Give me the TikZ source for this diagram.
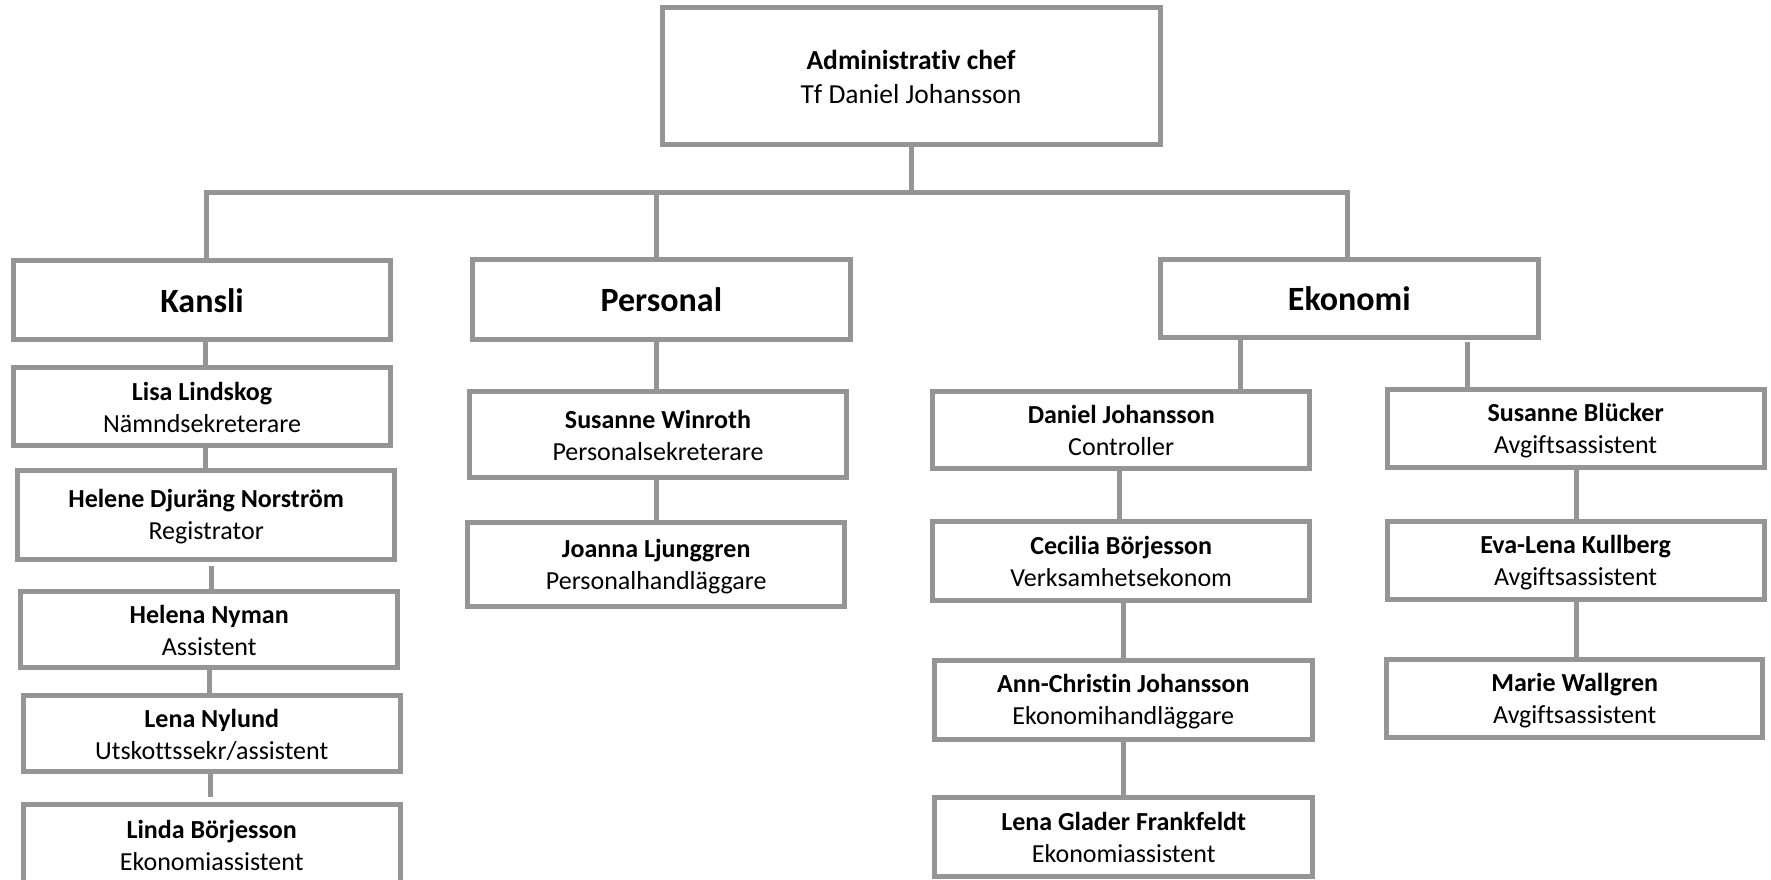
\documentclass[tikz,border=0pt]{standalone}
\usepackage{fontspec}
\setmainfont[Ligatures=NoCommon]{Carlito}
\definecolor{linegray}{RGB}{149,149,149}
\newcommand{\myprule}{\rule[-3.7pt]{0pt}{26.3pt}}
\newcommand{\mytrule}{\rule[-3.5pt]{0pt}{28pt}}
\newcommand{\persontext}[2]{\textbf{#1}\myprule\\#2\myprule}
\tikzset{
  box/.style={draw=linegray, line width=5pt, inner sep=0pt, align=center},
  personbox/.style={box, font=\fontsize{26}{32.3}\selectfont},
  deptbox/.style={box, font=\fontsize{34}{40}\selectfont\bfseries, text height=24pt, text depth=0pt},
  topbox/.style={box, font=\fontsize{27.5}{33.3}\selectfont},
  conn/.style={draw=linegray, line width=5pt}
}
\begin{document}
\begin{tikzpicture}[x=1pt,y=-1pt]
\clip (0,0) rectangle (1771,879);
\fill[white] (0,0) rectangle (1771,879);

% top
\node[topbox, minimum width=498pt, minimum height=137pt] (top) at (911,76)
  {\textbf{Administrativ chef}\mytrule\\Tf Daniel Johansson\mytrule};

% departments
\node[deptbox, minimum width=377.6pt, minimum height=79pt] (kansli) at (202,300.3) {Kansli};
\node[deptbox, minimum width=377.7pt, minimum height=79.4pt] (personal) at (661.3,299.5) {Personal};
\node[deptbox, minimum width=378pt, minimum height=78pt] (ekonomi) at (1349.3,298.8) {Ekonomi};

% Kansli column
\node[personbox, minimum width=377.7pt, minimum height=78.3pt] (lisa) at (202,406.7) {\persontext{Lisa Lindskog}{Nämndsekreterare}};
\node[personbox, minimum width=376.7pt, minimum height=89pt] (helene) at (206.2,514.7) {\persontext{Helene Djuräng Norström}{Registrator}};
\node[personbox, minimum width=376.7pt, minimum height=75.7pt] (helena) at (209.2,629.7) {\persontext{Helena Nyman}{Assistent}};
\node[personbox, minimum width=377pt, minimum height=75.7pt] (lena) at (211.7,733.7) {\persontext{Lena Nylund}{Utskottssekr/assistent}};
\node[personbox, minimum width=377pt, minimum height=81.3pt] (linda) at (211.7,845) {\persontext{Linda Börjesson}{Ekonomiassistent}};

% Personal column
\node[personbox, minimum width=377.6pt, minimum height=85.7pt] (winroth) at (658,434.7) {\persontext{Susanne Winroth}{Personalsekreterare}};
\node[personbox, minimum width=377.3pt, minimum height=84.3pt] (joanna) at (656.2,564.7) {\persontext{Joanna Ljunggren}{Personalhandläggare}};

% Ekonomi left column
\node[personbox, minimum width=377.3pt, minimum height=76.4pt] (daniel) at (1121.2,430) {\persontext{Daniel Johansson}{Controller}};
\node[personbox, minimum width=377.3pt, minimum height=79pt] (cecilia) at (1121.2,561.3) {\persontext{Cecilia Börjesson}{Verksamhetsekonom}};
\node[personbox, minimum width=378.3pt, minimum height=79.2pt] (ann) at (1123.3,699.6) {\persontext{Ann-Christin Johansson}{Ekonomihandläggare}};
\node[personbox, minimum width=377.7pt, minimum height=79.3pt] (glader) at (1123.7,837.2) {\persontext{Lena Glader Frankfeldt}{Ekonomiassistent}};

% Ekonomi right column
\node[personbox, minimum width=377.1pt, minimum height=77.7pt] (blucker) at (1575.6,428.7) {\persontext{Susanne Blücker}{Avgiftsassistent}};
\node[personbox, minimum width=377pt, minimum height=77.4pt] (eva) at (1575.6,560.5) {\persontext{Eva-Lena Kullberg}{Avgiftsassistent}};
\node[personbox, minimum width=375.7pt, minimum height=77.7pt] (marie) at (1574.7,698.7) {\persontext{Marie Wallgren}{Avgiftsassistent}};

% bus
\coordinate (busR) at (1347.5,192);
\draw[conn] (top.south) -- (top.south |- busR);
\draw[conn] ([xshift=4.5pt]kansli.north) |- (busR) -- ([xshift=-1.8pt]ekonomi.north);
\draw[conn] ([xshift=-4.8pt]personal.north) -- ([xshift=-4.8pt]personal.north |- busR);

% Kansli connectors
\draw[conn] ([xshift=3.7pt]kansli.south) -- ([xshift=3.7pt]kansli.south |- lisa.north);
\draw[conn] ([xshift=3.7pt]lisa.south) -- ([xshift=3.7pt]lisa.south |- helene.north);
\draw[conn, shorten <=4pt] ([xshift=5.6pt]helene.south) -- ([xshift=5.6pt]helene.south |- helena.north);
\draw[conn] ([xshift=0.6pt]helena.south) -- ([xshift=0.6pt]helena.south |- lena.north);
\draw[conn, shorten >=5pt] ([xshift=-0.9pt]lena.south) -- ([xshift=-0.9pt]lena.south |- linda.north);

% Personal connectors
\draw[conn] ([xshift=-4.8pt]personal.south) -- ([xshift=-4.8pt]personal.south |- winroth.north);
\draw[conn] ([xshift=-2pt]winroth.south) -- ([xshift=-2pt]winroth.south |- joanna.north);

% Ekonomi connectors
\draw[conn] ([xshift=-108.8pt]ekonomi.south) -- ([xshift=-108.8pt]ekonomi.south |- daniel.north);
\draw[conn, shorten <=1.7pt] ([xshift=117.7pt]ekonomi.south) -- ([xshift=117.7pt]ekonomi.south |- blucker.north);
\draw[conn] ([xshift=-2.2pt]daniel.south) -- ([xshift=-2.2pt]daniel.south |- cecilia.north);
\draw[conn] ([xshift=1.8pt]cecilia.south) -- ([xshift=1.8pt]cecilia.south |- ann.north);
\draw[conn] ([xshift=0.2pt]ann.south) -- ([xshift=0.2pt]ann.south |- glader.north);
\draw[conn] ([xshift=0.4pt]blucker.south) -- ([xshift=0.4pt]blucker.south |- eva.north);
\draw[conn] ([xshift=1.3pt]eva.south) -- ([xshift=1.3pt]eva.south |- marie.north);
\end{tikzpicture}
\end{document}
